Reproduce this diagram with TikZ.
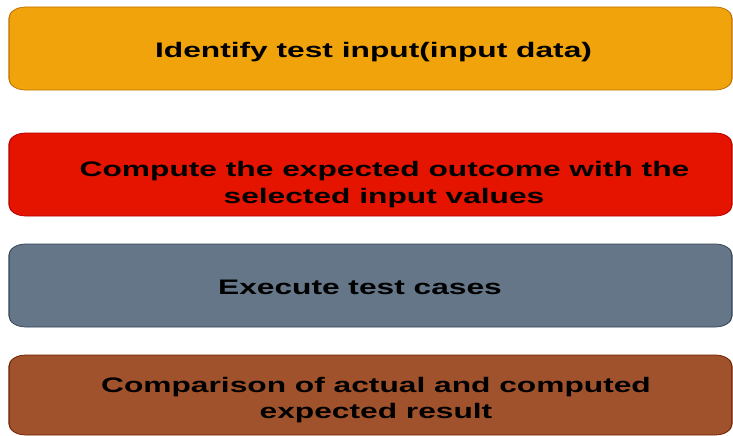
\documentclass[tikz,border=0pt]{standalone}
\usepackage{fontspec}
\setmainfont{Liberation Sans}
\definecolor{amberF}{HTML}{F0A30A}\definecolor{amberS}{HTML}{BD7000}
\definecolor{redF}{HTML}{E51400}\definecolor{redS}{HTML}{B20000}
\definecolor{greyF}{HTML}{647687}\definecolor{greyS}{HTML}{314354}
\definecolor{brownF}{HTML}{A0522D}\definecolor{brownS}{HTML}{6D1F00}
\begin{document}
\begin{tikzpicture}[x=1pt,y=-1pt,
  box/.style={rectangle,rounded corners=11pt,minimum width=478.8pt,minimum height=83pt,inner sep=0pt,line width=0.7pt},
  lbl/.style={anchor=base,inner sep=0pt,font=\fontsize{21}{27}\selectfont\bfseries,text=black}]
\useasboundingbox (0,0) rectangle (733,436);
\def\S{1.51}
\begin{scope}[transform canvas={xscale=1.51}]
  \node[box,fill=amberF,draw=amberS] (b1) at ({370.5/\S},48.5) {};
  \node[box,fill=redF,draw=redS] (b2) at ({370.5/\S},174.5) {};
  \node[box,fill=greyF,draw=greyS] (b3) at ({370.5/\S},285.5) {};
  \node[box,fill=brownF,draw=brownS,minimum height=80pt] (b4) at ({370.5/\S},395) {};
  \node[lbl] (t1) at ({373.5/\S},57) {Identify test input(input data)};
  \node[lbl] (t2a) at ({384.5/\S},176.5) {Compute the expected outcome with the};
  \node[lbl] (t2b) at ({384/\S},203) {selected input values};
  \node[lbl] (t3) at ({360/\S},294) {Execute test cases};
  \node[lbl] (t4a) at ({376/\S},392) {Comparison of actual and computed};
  \node[lbl] (t4b) at ({376/\S},418) {expected result};
\end{scope}
\end{tikzpicture}
\end{document}
